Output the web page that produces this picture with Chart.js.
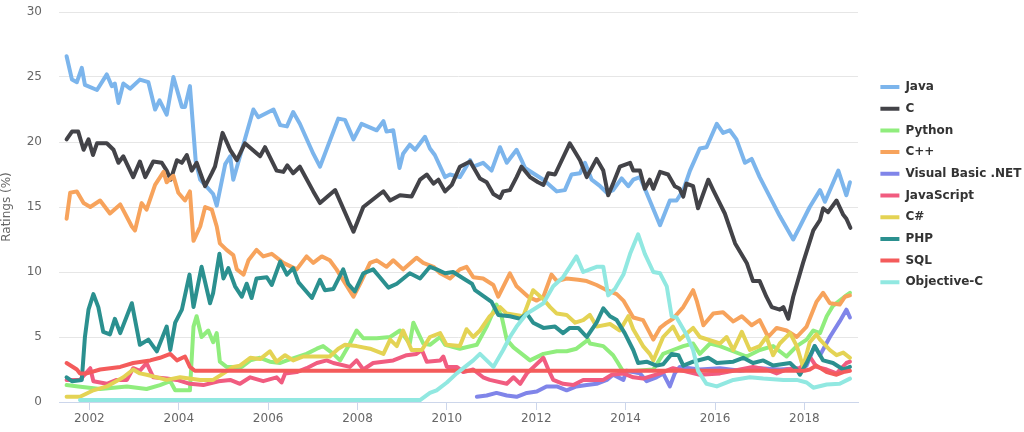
<!DOCTYPE html>
<html>
<head>
<meta charset="utf-8">
<title>Ratings (%)</title>
<script src="https://cdn.jsdelivr.net/npm/chart.js@4.4.1/dist/chart.umd.min.js"></script>
<style>
    body { margin: 0; background: #ffffff; }
</style>
</head>
<body>
<canvas id="canvasRatings" width="1024" height="432"></canvas>
<script>
// series names and colours, in legend order
var names = ["Java", "C", "Python", "C++", "Visual Basic .NET", "JavaScript", "C#", "PHP", "SQL", "Objective-C"];
var colors = ["#7cb5ec", "#434348", "#90ed7d", "#f7a35c", "#8085e9", "#f15c80", "#e4d354", "#2b908f", "#f45b5b", "#91e8e1"];

// x axis ticks (years)
var yearTicks = [2002, 2004, 2006, 2008, 2010, 2012, 2014, 2016, 2018];

// [year, rating %]
var java = [[2001.49,26.6],[2001.61,24.8],[2001.72,24.6],[2001.83,25.7],[2001.90,24.4],[2002.17,24.0],[2002.39,25.2],[2002.50,24.3],[2002.57,24.5],[2002.65,23.0],[2002.76,24.5],[2002.91,24.1],[2003.13,24.8],[2003.32,24.6],[2003.47,22.5],[2003.57,23.2],[2003.73,22.1],[2003.88,25.0],[2004.07,22.7],[2004.14,22.7],[2004.25,24.3],[2004.38,18.5],[2004.48,17.1],[2004.77,16.0],[2004.85,15.1],[2005.04,18.3],[2005.15,18.9],[2005.22,17.1],[2005.67,22.5],[2005.78,21.9],[2006.12,22.5],[2006.27,21.3],[2006.42,21.2],[2006.56,22.3],[2006.71,21.4],[2007.01,19.1],[2007.16,18.1],[2007.57,21.8],[2007.72,21.7],[2007.91,20.2],[2008.09,21.4],[2008.43,20.9],[2008.58,21.6],[2008.65,20.8],[2008.80,20.9],[2008.94,18.0],[2009.02,19.1],[2009.17,19.8],[2009.29,19.4],[2009.51,20.4],[2009.62,19.5],[2009.73,19.0],[2009.96,17.3],[2010.07,17.5],[2010.29,17.3],[2010.52,18.6],[2010.59,18.1],[2010.81,18.4],[2011.00,17.8],[2011.19,19.6],[2011.34,18.4],[2011.56,19.4],[2011.67,18.6],[2011.75,18.0],[2011.93,17.6],[2012.16,17.1],[2012.46,16.2],[2012.64,16.3],[2012.79,17.5],[2012.98,17.6],[2013.09,18.4],[2013.24,17.1],[2013.43,16.6],[2013.58,16.1],[2013.72,16.3],[2013.91,17.2],[2014.06,16.6],[2014.17,17.1],[2014.32,17.3],[2014.54,15.5],[2014.77,13.6],[2014.99,15.5],[2015.14,15.5],[2015.29,16.3],[2015.44,17.8],[2015.66,19.5],[2015.81,19.6],[2016.04,21.4],[2016.18,20.7],[2016.33,20.9],[2016.48,20.2],[2016.67,18.4],[2016.82,18.7],[2017.00,17.3],[2017.45,14.3],[2017.75,12.5],[2017.90,13.5],[2018.12,15.0],[2018.35,16.3],[2018.46,15.4],[2018.76,17.8],[2018.94,15.9],[2019.02,16.9]];

var c = [[2001.49,20.2],[2001.61,20.8],[2001.75,20.8],[2001.87,19.4],[2001.98,20.2],[2002.08,19.0],[2002.17,19.9],[2002.39,19.9],[2002.54,19.4],[2002.65,18.4],[2002.76,18.9],[2002.98,17.3],[2003.13,18.5],[2003.25,17.3],[2003.43,18.5],[2003.62,18.4],[2003.73,17.8],[2003.82,17.1],[2003.96,18.6],[2004.07,18.4],[2004.18,19.0],[2004.29,17.8],[2004.40,18.4],[2004.59,16.6],[2004.74,17.6],[2004.81,18.1],[2004.98,20.7],[2005.15,19.4],[2005.30,18.6],[2005.48,19.9],[2005.82,18.9],[2005.93,19.6],[2006.19,17.8],[2006.34,17.7],[2006.43,18.2],[2006.56,17.6],[2006.71,18.1],[2007.01,16.2],[2007.16,15.3],[2007.50,16.3],[2007.91,13.1],[2008.13,15.0],[2008.50,16.0],[2008.58,16.2],[2008.73,15.5],[2008.95,15.9],[2009.21,15.8],[2009.40,17.1],[2009.55,17.5],[2009.70,16.8],[2009.81,17.1],[2009.96,16.2],[2010.11,16.7],[2010.29,18.1],[2010.52,18.5],[2010.74,17.2],[2010.89,16.9],[2011.04,16.0],[2011.19,15.7],[2011.26,16.2],[2011.41,16.3],[2011.56,17.3],[2011.67,18.1],[2011.86,17.3],[2012.04,16.9],[2012.16,16.7],[2012.27,17.6],[2012.42,17.5],[2012.75,19.9],[2012.98,18.6],[2013.13,17.3],[2013.35,18.7],[2013.50,17.8],[2013.61,15.9],[2013.72,16.8],[2013.87,18.1],[2014.10,18.4],[2014.17,17.8],[2014.32,17.8],[2014.43,16.4],[2014.54,17.1],[2014.62,16.4],[2014.77,17.7],[2014.95,17.5],[2015.10,16.6],[2015.21,16.4],[2015.29,15.8],[2015.36,16.8],[2015.51,16.6],[2015.62,14.9],[2015.85,17.1],[2015.96,16.3],[2016.22,14.5],[2016.45,12.2],[2016.71,10.7],[2016.85,9.3],[2017.00,9.3],[2017.15,8.1],[2017.27,7.3],[2017.45,7.1],[2017.53,7.3],[2017.64,6.4],[2017.75,8.1],[2017.97,10.7],[2018.20,13.2],[2018.35,14.0],[2018.42,14.9],[2018.53,14.6],[2018.72,15.5],[2018.87,14.4],[2018.94,14.1],[2019.03,13.4]];

var python = [[2001.49,1.3],[2001.75,1.2],[2002.24,1.0],[2002.84,1.2],[2003.28,1.0],[2003.58,1.3],[2003.81,1.6],[2003.92,0.9],[2004.25,0.9],[2004.33,5.8],[2004.40,6.6],[2004.51,5.0],[2004.66,5.5],[2004.77,4.6],[2004.85,5.3],[2004.92,3.1],[2005.07,2.7],[2005.41,2.7],[2005.60,3.2],[2005.82,3.4],[2006.04,3.1],[2006.27,3.0],[2006.42,3.2],[2006.86,3.7],[2007.09,4.1],[2007.23,4.3],[2007.46,3.7],[2007.61,3.2],[2007.83,4.5],[2007.98,5.5],[2008.13,4.9],[2008.43,4.9],[2008.73,5.0],[2008.95,5.5],[2009.17,4.5],[2009.25,6.1],[2009.47,4.5],[2009.62,4.4],[2009.85,5.0],[2009.96,4.4],[2010.29,4.1],[2010.67,4.4],[2010.89,5.8],[2011.11,7.5],[2011.23,6.5],[2011.34,4.8],[2011.49,4.2],[2011.64,3.8],[2011.86,3.2],[2012.16,3.7],[2012.46,3.9],[2012.68,3.9],[2012.90,4.1],[2013.09,4.6],[2013.16,4.8],[2013.20,4.5],[2013.50,4.3],[2013.72,3.6],[2013.83,3.0],[2013.95,2.3],[2014.25,2.4],[2014.62,2.5],[2014.84,3.7],[2015.06,4.0],[2015.29,4.3],[2015.51,4.5],[2015.66,3.7],[2015.89,4.5],[2016.11,4.3],[2016.33,4.0],[2016.71,3.5],[2017.00,4.0],[2017.30,4.3],[2017.60,3.5],[2017.83,4.3],[2018.05,4.8],[2018.20,5.5],[2018.35,5.3],[2018.50,6.6],[2018.64,7.4],[2018.79,7.8],[2018.94,8.2],[2019.02,8.4]];

var cpp = [[2001.49,14.1],[2001.57,16.1],[2001.72,16.2],[2001.87,15.3],[2002.02,15.0],[2002.24,15.5],[2002.46,14.5],[2002.69,15.2],[2002.95,13.5],[2003.02,13.2],[2003.17,15.3],[2003.28,14.8],[2003.47,16.7],[2003.66,17.7],[2003.73,16.9],[2003.88,17.4],[2003.99,16.1],[2004.14,15.5],[2004.25,16.2],[2004.33,12.4],[2004.48,13.5],[2004.59,15.0],[2004.74,14.8],[2004.85,13.5],[2004.92,12.2],[2005.07,11.7],[2005.22,11.3],[2005.30,10.2],[2005.45,9.8],[2005.56,10.9],[2005.74,11.7],[2005.89,11.2],[2006.08,11.4],[2006.34,10.7],[2006.64,10.2],[2006.86,11.2],[2007.01,10.7],[2007.20,11.2],[2007.38,10.9],[2007.53,10.2],[2007.91,8.1],[2008.06,9.1],[2008.28,10.7],[2008.43,10.9],[2008.65,10.4],[2008.80,10.9],[2009.02,10.2],[2009.32,11.1],[2009.47,10.7],[2009.70,10.4],[2009.85,9.9],[2010.07,9.5],[2010.29,10.2],[2010.44,10.4],[2010.59,9.6],[2010.81,9.5],[2011.04,9.0],[2011.15,8.1],[2011.41,9.9],[2011.56,8.9],[2011.82,8.1],[2012.01,7.8],[2012.16,8.1],[2012.34,9.8],[2012.46,9.3],[2012.68,9.5],[2012.94,9.4],[2013.13,9.3],[2013.35,9.0],[2013.58,8.6],[2013.80,8.3],[2013.95,7.8],[2014.17,6.5],[2014.39,6.3],[2014.62,4.8],[2014.77,5.7],[2014.92,6.1],[2015.06,6.4],[2015.29,7.3],[2015.51,8.6],[2015.59,7.8],[2015.74,5.9],[2015.96,6.8],[2016.18,6.9],[2016.41,6.2],[2016.60,6.6],[2016.82,5.9],[2017.00,6.3],[2017.19,5.0],[2017.38,5.7],[2017.60,5.5],[2017.83,5.0],[2018.05,5.8],[2018.27,7.7],[2018.42,8.4],[2018.57,7.6],[2018.79,7.5],[2018.91,8.1],[2019.02,8.2]];

var vbnet = [[2010.67,0.4],[2010.89,0.5],[2011.11,0.7],[2011.34,0.5],[2011.56,0.4],[2011.79,0.7],[2012.01,0.8],[2012.23,1.2],[2012.46,1.2],[2012.68,0.9],[2012.90,1.2],[2013.13,1.3],[2013.35,1.4],[2013.58,1.7],[2013.72,2.1],[2013.95,1.7],[2014.02,2.4],[2014.32,2.2],[2014.47,1.6],[2014.69,1.9],[2014.84,2.2],[2014.99,1.2],[2015.10,2.2],[2015.21,2.7],[2015.66,2.5],[2016.11,2.6],[2016.56,2.4],[2017.00,2.6],[2017.45,2.5],[2017.90,2.6],[2018.05,2.8],[2018.23,4.3],[2018.35,3.6],[2018.57,5.0],[2018.79,6.2],[2018.94,7.1],[2019.02,6.5]];

var javascript = [[2001.49,1.7],[2001.79,1.7],[2002.02,2.6],[2002.09,1.6],[2002.39,1.4],[2002.61,1.7],[2002.84,1.7],[2002.98,2.6],[2003.13,2.4],[2003.28,3.0],[2003.43,1.9],[2003.73,1.8],[2003.96,1.7],[2004.25,1.4],[2004.55,1.3],[2004.89,1.6],[2005.15,1.7],[2005.37,1.4],[2005.60,1.9],[2005.89,1.6],[2006.19,1.9],[2006.30,1.5],[2006.38,2.2],[2006.64,2.3],[2006.86,2.6],[2007.09,3.0],[2007.31,3.2],[2007.46,3.0],[2007.83,2.7],[2007.98,3.2],[2008.13,2.5],[2008.35,3.0],[2008.80,3.2],[2009.10,3.6],[2009.32,3.7],[2009.44,4.0],[2009.55,3.1],[2009.85,3.2],[2009.92,3.5],[2010.00,2.7],[2010.22,2.7],[2010.37,2.3],[2010.59,2.5],[2010.81,1.9],[2010.96,1.7],[2011.34,1.4],[2011.49,1.9],[2011.64,1.4],[2011.79,2.2],[2012.16,3.4],[2012.27,2.5],[2012.38,1.7],[2012.60,1.4],[2012.83,1.3],[2013.05,1.7],[2013.50,1.7],[2013.69,2.1],[2013.95,2.2],[2014.17,1.9],[2014.39,1.8],[2014.77,2.2],[2015.06,2.6],[2015.66,2.1],[2016.11,2.2],[2016.56,2.5],[2016.85,2.7],[2017.15,2.5],[2017.38,2.2],[2017.60,2.5],[2017.90,2.6],[2018.12,3.5],[2018.27,2.7],[2018.50,2.5],[2018.72,2.2],[2018.94,3.0],[2019.02,3.1]];

var csharp = [[2001.49,0.4],[2001.79,0.4],[2002.09,0.9],[2002.39,1.2],[2002.76,1.9],[2002.98,2.5],[2003.13,2.2],[2003.28,2.1],[2003.73,1.7],[2004.03,1.9],[2004.48,1.7],[2004.77,1.7],[2005.00,2.2],[2005.22,2.7],[2005.37,2.8],[2005.60,3.4],[2005.82,3.3],[2006.04,3.9],[2006.19,3.1],[2006.38,3.6],[2006.56,3.2],[2006.79,3.5],[2007.09,3.5],[2007.38,3.5],[2007.57,4.1],[2007.72,4.4],[2007.98,4.3],[2008.28,4.1],[2008.58,3.7],[2008.73,4.8],[2008.88,4.3],[2009.02,5.5],[2009.21,4.0],[2009.44,4.0],[2009.62,5.0],[2009.85,5.3],[2009.99,4.4],[2010.29,4.3],[2010.44,5.6],[2010.59,5.0],[2010.74,5.5],[2010.96,6.6],[2011.19,7.3],[2011.34,6.8],[2011.71,6.6],[2011.93,8.6],[2012.16,7.9],[2012.31,7.3],[2012.46,6.8],[2012.68,6.7],[2012.87,6.1],[2013.05,6.3],[2013.20,6.7],[2013.35,5.8],[2013.65,6.0],[2013.87,5.5],[2014.06,6.6],[2014.17,5.6],[2014.39,4.3],[2014.54,3.7],[2014.62,3.2],[2014.84,5.0],[2015.06,5.8],[2015.21,4.8],[2015.51,5.7],[2015.66,5.0],[2016.11,4.5],[2016.26,5.0],[2016.41,4.0],[2016.60,5.4],[2016.78,4.0],[2017.00,4.3],[2017.15,5.0],[2017.30,3.6],[2017.45,4.5],[2017.68,5.3],[2017.83,4.3],[2017.97,2.7],[2018.12,4.6],[2018.27,5.2],[2018.35,4.8],[2018.57,4.0],[2018.72,3.6],[2018.87,3.8],[2019.02,3.4]];

var php = [[2001.49,1.9],[2001.61,1.6],[2001.83,1.7],[2001.90,5.0],[2001.98,7.1],[2002.09,8.3],[2002.20,7.3],[2002.31,5.4],[2002.46,5.2],[2002.57,6.4],[2002.69,5.3],[2002.95,7.6],[2003.13,4.4],[2003.32,4.8],[2003.51,3.9],[2003.73,5.8],[2003.81,4.0],[2003.92,6.1],[2004.07,7.1],[2004.24,9.8],[2004.33,7.3],[2004.51,10.4],[2004.70,7.6],[2004.77,8.4],[2004.91,11.4],[2005.00,9.5],[2005.11,10.3],[2005.26,8.9],[2005.41,8.1],[2005.52,9.1],[2005.63,8.0],[2005.74,9.5],[2005.97,9.6],[2006.08,9.0],[2006.27,10.8],[2006.42,9.8],[2006.56,10.3],[2006.68,9.2],[2006.98,8.0],[2007.16,9.4],[2007.27,8.6],[2007.46,8.7],[2007.68,10.2],[2007.79,9.1],[2007.94,8.5],[2008.13,9.9],[2008.35,10.2],[2008.50,9.6],[2008.69,8.8],[2008.88,9.1],[2009.17,9.9],[2009.40,9.5],[2009.62,10.4],[2009.77,10.2],[2009.96,9.9],[2010.14,10.0],[2010.37,9.5],[2010.56,9.1],[2010.63,8.6],[2011.00,7.7],[2011.15,6.7],[2011.41,6.6],[2011.64,6.4],[2011.79,6.8],[2011.93,6.1],[2012.16,5.7],[2012.42,5.8],[2012.60,5.3],[2012.75,5.7],[2012.94,5.7],[2013.13,5.0],[2013.35,6.1],[2013.50,7.2],[2013.65,6.6],[2013.80,6.3],[2013.98,5.3],[2014.17,4.0],[2014.28,3.0],[2014.47,3.1],[2014.69,2.8],[2014.84,2.9],[2015.03,3.7],[2015.18,3.6],[2015.29,2.8],[2015.51,3.1],[2015.85,3.4],[2016.04,3.0],[2016.41,3.1],[2016.63,3.4],[2016.85,3.0],[2017.08,3.2],[2017.30,2.8],[2017.68,3.0],[2017.83,2.5],[2017.90,2.1],[2018.05,3.0],[2018.23,4.3],[2018.42,3.2],[2018.64,3.0],[2018.87,2.5],[2019.02,2.7]];

var sql = [[2001.49,3.0],[2001.72,2.5],[2001.79,2.2],[2001.94,2.2],[2002.24,2.5],[2002.69,2.7],[2002.98,3.0],[2003.36,3.2],[2003.58,3.4],[2003.81,3.7],[2003.96,3.2],[2004.14,3.5],[2004.25,2.7],[2004.36,2.4],[2018.00,2.4],[2018.12,2.5],[2018.27,2.8],[2018.50,2.3],[2018.72,2.1],[2018.87,2.3],[2019.02,2.4]];

var objc = [[2001.79,0.15],[2009.40,0.15],[2009.62,0.7],[2009.77,0.9],[2010.00,1.5],[2010.22,2.2],[2010.44,2.8],[2010.59,3.2],[2010.74,3.7],[2010.89,3.2],[2011.04,2.7],[2011.26,4.0],[2011.41,5.0],[2011.56,5.8],[2011.79,6.8],[2011.93,7.1],[2012.16,7.6],[2012.38,8.9],[2012.60,9.6],[2012.75,10.4],[2012.90,11.2],[2013.05,10.0],[2013.20,10.2],[2013.35,10.4],[2013.50,10.4],[2013.61,8.2],[2013.76,8.7],[2013.95,9.8],[2014.10,11.4],[2014.28,12.9],[2014.43,11.4],[2014.62,10.0],[2014.77,9.9],[2014.92,8.9],[2015.03,6.6],[2015.14,6.5],[2015.36,5.2],[2015.51,4.0],[2015.62,2.4],[2015.81,1.4],[2016.04,1.2],[2016.41,1.7],[2016.78,1.9],[2017.08,1.8],[2017.53,1.7],[2017.83,1.7],[2018.05,1.5],[2018.20,1.1],[2018.50,1.35],[2018.79,1.4],[2019.02,1.8]];

var series = [java, c, python, cpp, vbnet, javascript, csharp, php, sql, objc];

document.addEventListener("DOMContentLoaded", main);

function main() {
    var datasets = [];
    for (var i = 0; i < series.length; i++) {
        datasets.push({
            label: names[i],
            data: series[i].map(function (p) { return { x: p[0], y: p[1] }; }),
            borderColor: colors[i],
            backgroundColor: colors[i],
            borderWidth: 4,
            borderJoinStyle: "round",
            borderCapStyle: "round",
            pointRadius: 0,
            tension: 0,
            order: series.length - 1 - i   // later series drawn on top, like the original
        });
    }

    var config = {
        type: "line",
        data: { datasets: datasets },
        options: {
            responsive: false,
            animation: false,
            layout: { padding: { top: 12, right: 0, bottom: 0, left: 0 } },
            scales: {
                x: {
                    type: "linear",
                    min: 2001.32,
                    max: 2019.2,
                    afterBuildTicks: function (scale) {
                        scale.ticks = yearTicks.map(function (v) { return { value: v }; });
                    },
                    afterFit: function (scale) { scale.height = 30; },
                    ticks: {
                        color: "#666666",
                        font: { family: "DejaVu Sans", size: 12 },
                        padding: 2,
                        maxRotation: 0,
                        callback: function (v) { return String(v); }
                    },
                    grid: { display: true, drawOnChartArea: false, drawTicks: true, tickLength: 8, color: "#ccd6eb" },
                    border: { display: true, color: "#ccd6eb", width: 1 }
                },
                y: {
                    min: 0,
                    max: 30,
                    afterFit: function (scale) { scale.width = 59; },
                    ticks: {
                        stepSize: 5,
                        color: "#666666",
                        font: { family: "DejaVu Sans", size: 12 },
                        padding: 0
                    },
                    // invisible tick marks keep the labels away from the plot
                    grid: { color: "#e6e6e6", drawTicks: true, tickLength: 17, tickColor: "rgba(0,0,0,0)" },
                    border: { display: false },
                    title: {
                        display: true,
                        text: "Ratings (%)",
                        color: "#666666",
                        font: { family: "DejaVu Sans", size: 12 },
                        padding: { top: 0, bottom: 0 }
                    }
                },
                // empty spacer between the plot and the legend
                gap: {
                    position: "right",
                    display: true,
                    afterFit: function (scale) { scale.width = 12.7; },
                    ticks: { display: false },
                    grid: { display: false },
                    border: { display: false }
                }
            },
            plugins: {
                tooltip: { enabled: false },
                legend: {
                    position: "right",
                    align: "start",
                    maxWidth: 153.3,
                    title: { display: true, text: "", font: { size: 12, lineHeight: 1 }, padding: { top: 47.3, bottom: 0 } },
                    labels: {
                        boxWidth: 19,
                        boxHeight: 4,
                        padding: 9.7,
                        color: "#333333",
                        font: { family: "DejaVu Sans", size: 12, weight: "bold" },
                        sort: function (a, b) { return a.datasetIndex - b.datasetIndex; },
                        generateLabels: function (chart) {
                            var items = Chart.defaults.plugins.legend.labels.generateLabels(chart);
                            items.forEach(function (it) {
                                it.fillStyle = colors[it.datasetIndex];
                                it.lineWidth = 0;
                            });
                            return items;
                        }
                    }
                }
            }
        }
    };

    var ctx = document.getElementById("canvasRatings").getContext("2d");
    new Chart(ctx, config);
}
</script>
</body>
</html>
